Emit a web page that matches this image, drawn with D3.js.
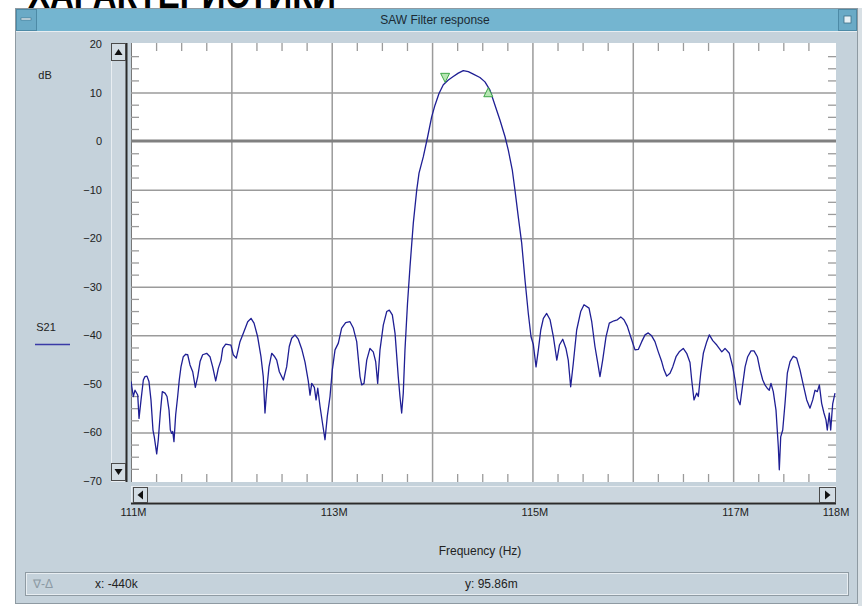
<!DOCTYPE html>
<html>
<head>
<meta charset="utf-8">
<script src="https://cdn.jsdelivr.net/npm/d3@7"></script>
<style>
  body { margin: 0; background: #ffffff; }
  svg { display: block; font-family: "Liberation Sans", Arial, sans-serif; }
</style>
</head>
<body>
<div id="viz"></div>
<script>
let w = 862;
let h = 606;

// S21 trace, frequency in MHz and level in dB
let freqs = [
  111.000, 111.023, 111.040, 111.067, 111.080, 111.100, 111.123, 111.139, 111.159, 111.179,
  111.199, 111.219, 111.232, 111.256, 111.272, 111.292, 111.312, 111.339, 111.359, 111.379,
  111.392, 111.406, 111.416, 111.428, 111.445, 111.465, 111.481, 111.498, 111.521, 111.545,
  111.565, 111.588, 111.615, 111.641, 111.665, 111.688, 111.714, 111.754, 111.787, 111.814,
  111.844, 111.870, 111.897, 111.914, 111.944, 111.996, 112.019, 112.049, 112.086, 112.126,
  112.163, 112.196, 112.226, 112.262, 112.295, 112.318, 112.335, 112.352, 112.375, 112.402,
  112.428, 112.452, 112.478, 112.518, 112.551, 112.577, 112.601, 112.634, 112.667, 112.701,
  112.734, 112.767, 112.784, 112.801, 112.827, 112.844, 112.861, 112.884, 112.906, 112.933,
  112.956, 112.983, 113.006, 113.033, 113.066, 113.099, 113.139, 113.182, 113.215, 113.249,
  113.282, 113.299, 113.322, 113.349, 113.381, 113.414, 113.438, 113.458, 113.481, 113.514,
  113.548, 113.574, 113.604, 113.631, 113.663, 113.680, 113.697, 113.713, 113.730, 113.755,
  113.780, 113.813, 113.847, 113.870, 113.913, 113.956, 113.996, 114.029, 114.069, 114.112,
  114.162, 114.211, 114.261, 114.311, 114.361, 114.411, 114.477, 114.527, 114.577, 114.627,
  114.677, 114.727, 114.759, 114.799, 114.826, 114.859, 114.893, 114.926, 114.959, 114.986,
  115.009, 115.036, 115.059, 115.083, 115.109, 115.142, 115.176, 115.209, 115.243, 115.269,
  115.302, 115.334, 115.357, 115.381, 115.407, 115.441, 115.481, 115.514, 115.564, 115.591,
  115.623, 115.646, 115.673, 115.700, 115.733, 115.766, 115.813, 115.846, 115.880, 115.912,
  115.945, 115.979, 116.022, 116.055, 116.089, 116.122, 116.154, 116.188, 116.221, 116.254,
  116.288, 116.311, 116.338, 116.371, 116.398, 116.431, 116.463, 116.503, 116.537, 116.570,
  116.587, 116.610, 116.637, 116.653, 116.677, 116.703, 116.737, 116.763, 116.797, 116.837,
  116.887, 116.919, 116.962, 116.996, 117.019, 117.042, 117.069, 117.096, 117.119, 117.145,
  117.178, 117.208, 117.241, 117.268, 117.295, 117.317, 117.340, 117.360, 117.377, 117.400,
  117.427, 117.450, 117.460, 117.474, 117.494, 117.517, 117.540, 117.567, 117.599, 117.633,
  117.666, 117.699, 117.733, 117.766, 117.793, 117.816, 117.839, 117.859, 117.882, 117.905,
  117.925, 117.938, 117.958, 117.972, 117.992, 118.015
];
let s21 = [
  -49.5, -52.6, -51.3, -52.3, -57.1, -53.3, -49.2, -48.5, -48.4, -49.5,
  -53.3, -59.5, -60.9, -64.4, -61.5, -56.0, -51.6, -51.9, -52.6, -55.4,
  -59.5, -60.2, -59.8, -61.9, -56.4, -52.6, -49.2, -46.5, -44.4, -43.9,
  -44.0, -46.1, -47.5, -50.7, -48.5, -45.4, -44.0, -43.7, -44.4, -46.5,
  -49.4, -46.8, -45.1, -42.7, -41.8, -42.0, -44.0, -44.7, -41.3, -39.2,
  -37.2, -36.5, -37.5, -40.3, -44.4, -48.5, -56.0, -51.3, -46.5, -43.7,
  -44.3, -45.1, -47.5, -49.2, -46.5, -42.3, -40.6, -39.9, -40.8, -42.8,
  -45.5, -49.5, -52.3, -49.9, -50.7, -53.3, -50.9, -54.7, -57.8, -61.5,
  -56.7, -52.6, -47.1, -43.0, -41.6, -38.5, -37.4, -37.2, -38.5, -41.3,
  -48.5, -50.2, -49.9, -45.1, -42.7, -43.4, -45.4, -49.9, -43.0, -37.9,
  -35.1, -34.8, -35.8, -39.6, -48.5, -52.6, -56.0, -51.9, -43.0, -33.5,
  -25.9, -16.9, -10.1, -6.6, -3.2, 0.9, 5.0, 7.4, 9.8, 11.6,
  12.6, 13.3, 14.0, 14.5, 14.3, 13.8, 13.1, 12.2, 10.5, 7.4,
  4.3, 0.9, -1.8, -5.9, -10.1, -15.6, -21.0, -28.6, -35.5, -40.3,
  -41.9, -46.5, -43.0, -38.9, -36.5, -35.5, -36.8, -40.3, -45.1, -42.0,
  -40.8, -42.7, -45.1, -50.6, -45.8, -38.9, -35.1, -33.7, -34.4, -37.2,
  -42.3, -45.1, -48.5, -45.1, -40.3, -37.5, -37.0, -36.8, -36.2, -36.8,
  -38.1, -40.3, -43.0, -42.9, -41.3, -39.9, -39.5, -40.1, -41.3, -43.4,
  -45.4, -47.1, -48.4, -47.8, -46.5, -44.4, -43.4, -42.7, -43.7, -45.6,
  -49.2, -53.3, -51.9, -52.6, -47.8, -43.7, -41.3, -39.9, -41.1, -42.0,
  -43.4, -42.7, -43.7, -46.5, -49.2, -53.0, -54.3, -50.0, -46.5, -44.4,
  -43.2, -43.2, -44.4, -47.1, -49.2, -50.2, -50.9, -51.3, -49.9, -51.6,
  -55.4, -62.9, -67.7, -60.9, -59.5, -54.0, -47.8, -45.4, -44.3, -44.7,
  -47.1, -50.2, -53.3, -55.0, -53.3, -51.3, -51.6, -50.2, -54.0, -56.0,
  -57.4, -59.5, -56.0, -59.5, -54.1, -51.9
];

// delta markers (MHz, dB)
let markerFreqs = [114.13, 114.56];
let markerLevels = [11.9, 11.2];
let markerKinds = ["down", "up"];

// axes
let xLabelTicks = [111, 113, 115, 117, 118];
let xGridTicks = [112, 113, 114, 115, 116, 117];
let yLabelTicks = [20, 10, 0, -10, -20, -30, -40, -50, -60, -70];
let yGridTicks = [10, -10, -20, -30, -40, -50, -60];

let plot = { left: 131, right: 836, top: 43, bottom: 482 };

let svg = d3.select("#viz").append("svg")
  .attr("width", w)
  .attr("height", h)
  .attr("viewBox", "0 0 " + w + " " + h);

let xScale = d3.scaleLinear().domain([111, 118]).range([131, 833.5]);
let yScale = d3.scaleLinear().domain([-70, 20]).range([481, 44]);

// page heading, only its lower edge is inside the screenshot
svg.append("text")
  .attr("x", 28)
  .attr("y", 8)
  .attr("font-size", 40)
  .attr("font-weight", "bold")
  .attr("textLength", 308)
  .attr("lengthAdjust", "spacingAndGlyphs")
  .attr("fill", "#000")
  .text("ХАРАКТЕРИСТИКИ");

// window frame
let bodyColor = "#c5d2db";
svg.append("rect")
  .attr("x", 15.5).attr("y", 8.5).attr("width", 842).attr("height", 595)
  .attr("fill", bodyColor).attr("stroke", "#8e9aa2");
svg.append("rect")
  .attr("x", 858).attr("y", 8).attr("width", 4).attr("height", 598)
  .attr("fill", "#d8e0e5");

// title bar
svg.append("rect")
  .attr("x", 16).attr("y", 9).attr("width", 841).attr("height", 22)
  .attr("fill", "#74b5d0");
svg.append("line")
  .attr("x1", 16).attr("x2", 857).attr("y1", 31.5).attr("y2", 31.5)
  .attr("stroke", "#e8eef2");
svg.append("rect")
  .attr("x", 16.5).attr("y", 9.5).attr("width", 20).attr("height", 21)
  .attr("fill", "#6aaac6").attr("stroke", "#4d8aa6");
svg.append("rect")
  .attr("x", 21).attr("y", 18).attr("width", 10).attr("height", 2)
  .attr("fill", "#e6f0f5").attr("stroke", "#3c6e86").attr("stroke-width", 0.6);
svg.append("rect")
  .attr("x", 838.5).attr("y", 9.5).attr("width", 18).attr("height", 21)
  .attr("fill", "#6aaac6").attr("stroke", "#4d8aa6");
svg.append("rect")
  .attr("x", 844).attr("y", 16).attr("width", 7).attr("height", 7)
  .attr("fill", "#e6f0f5").attr("stroke", "#3c6e86").attr("stroke-width", 0.8);
svg.append("text")
  .attr("x", 435).attr("y", 23.5)
  .attr("text-anchor", "middle")
  .attr("font-size", 12)
  .attr("fill", "#1c2a33")
  .text("SAW Filter response");

// left scroll bar
svg.append("rect")
  .attr("x", 111.5).attr("y", 43.5).attr("width", 15).attr("height", 438)
  .attr("fill", "#cbd6de").attr("stroke", "#e9eef2");
svg.append("line")
  .attr("x1", 126.5).attr("x2", 126.5).attr("y1", 43).attr("y2", 482)
  .attr("stroke", "#2b2b2b").attr("stroke-width", 2);
svg.append("rect")
  .attr("x", 111.5).attr("y", 43.5).attr("width", 14).attr("height", 17)
  .attr("fill", "#d3dde4").attr("stroke", "#4a4a4a");
svg.append("path")
  .attr("d", "M114.5,55 L122.5,55 L118.5,49 Z").attr("fill", "#111");
svg.append("rect")
  .attr("x", 111.5).attr("y", 463.5).attr("width", 14).attr("height", 17)
  .attr("fill", "#d3dde4").attr("stroke", "#4a4a4a");
svg.append("path")
  .attr("d", "M114.5,469 L122.5,469 L118.5,475 Z").attr("fill", "#111");

// bottom scroll bar
svg.append("rect")
  .attr("x", 131.5).attr("y", 486.5).attr("width", 704).attr("height", 16)
  .attr("fill", "#cbd6de").attr("stroke", "#e9eef2");
svg.append("line")
  .attr("x1", 131).attr("x2", 836).attr("y1", 503.5).attr("y2", 503.5)
  .attr("stroke", "#2b2b2b").attr("stroke-width", 2);
svg.append("rect")
  .attr("x", 133.5).attr("y", 487.5).attr("width", 14).attr("height", 15)
  .attr("fill", "#d3dde4").attr("stroke", "#4a4a4a");
svg.append("path")
  .attr("d", "M137.5,495 L143,490.5 L143,499.5 Z").attr("fill", "#111");
svg.append("rect")
  .attr("x", 819.5).attr("y", 487.5).attr("width", 16).attr("height", 15)
  .attr("fill", "#d3dde4").attr("stroke", "#4a4a4a");
svg.append("path")
  .attr("d", "M830.5,495 L825,490.5 L825,499.5 Z").attr("fill", "#111");

// plot area
svg.append("rect")
  .attr("x", plot.left).attr("y", plot.top)
  .attr("width", plot.right - plot.left).attr("height", plot.bottom - plot.top)
  .attr("fill", "#ffffff");
svg.append("line")
  .attr("x1", plot.left + 0.5).attr("x2", plot.left + 0.5)
  .attr("y1", plot.top).attr("y2", plot.bottom)
  .attr("stroke", "#777");

let gridColor = "#9b9b9b";

// grid lines
let xGrid = svg.append("g")
  .attr("transform", "translate(0," + plot.bottom + ")")
  .call(d3.axisBottom(xScale).tickValues(xGridTicks).tickSize(-(plot.bottom - plot.top)).tickFormat(""));
xGrid.select(".domain").remove();
xGrid.selectAll("line").attr("stroke", gridColor).attr("stroke-width", 1.5);

let yGrid = svg.append("g")
  .attr("transform", "translate(" + plot.left + ",0)")
  .call(d3.axisLeft(yScale).tickValues(yGridTicks).tickSize(-(plot.right - plot.left)).tickFormat(""));
yGrid.select(".domain").remove();
yGrid.selectAll("line").attr("stroke", gridColor).attr("stroke-width", 1.5);

// minor ticks on all four edges
let xMinor = d3.range(111, 118, 0.25).filter(d => d % 1 != 0);
let yMinor = d3.range(-70, 20, 2.5).filter(d => d % 10 != 0);

[["bottom", plot.bottom, d3.axisTop], ["top", plot.top, d3.axisBottom]].forEach(function(s) {
  let g = svg.append("g")
    .attr("transform", "translate(0," + s[1] + ")")
    .call(s[2](xScale).tickValues(xMinor).tickSize(8).tickFormat(""));
  g.select(".domain").remove();
  g.selectAll("line").attr("stroke", gridColor).attr("stroke-width", 1.3);
});
[[plot.left, d3.axisRight], [plot.right, d3.axisLeft]].forEach(function(s) {
  let g = svg.append("g")
    .attr("transform", "translate(" + s[0] + ",0)")
    .call(s[1](yScale).tickValues(yMinor).tickSize(8).tickFormat(""));
  g.select(".domain").remove();
  g.selectAll("line").attr("stroke", gridColor).attr("stroke-width", 1.3);
});

// zero dB line
svg.append("line")
  .attr("x1", plot.left).attr("x2", plot.right)
  .attr("y1", yScale(0)).attr("y2", yScale(0))
  .attr("stroke", "#808080").attr("stroke-width", 3);

// tick labels
let yAxisGroup = svg.append("g")
  .attr("transform", "translate(102,0)")
  .call(d3.axisLeft(yScale).tickValues(yLabelTicks).tickSize(0).tickPadding(0));
yAxisGroup.select(".domain").remove();
yAxisGroup.selectAll("text")
  .attr("font-family", "Liberation Sans, Arial, sans-serif")
  .attr("font-size", 11)
  .attr("fill", "#222");

let xAxisGroup = svg.append("g")
  .attr("transform", "translate(2,508)")
  .call(d3.axisBottom(xScale).tickValues(xLabelTicks).tickSize(0).tickPadding(0).tickFormat(d => d + "M"));
xAxisGroup.select(".domain").remove();
xAxisGroup.selectAll("text")
  .attr("font-family", "Liberation Sans, Arial, sans-serif")
  .attr("font-size", 11)
  .attr("fill", "#222");

svg.append("text")
  .attr("x", 480).attr("y", 555)
  .attr("text-anchor", "middle")
  .attr("font-size", 12)
  .attr("fill", "#222")
  .text("Frequency (Hz)");

svg.append("text")
  .attr("x", 45).attr("y", 79)
  .attr("text-anchor", "middle")
  .attr("font-size", 11)
  .attr("fill", "#222")
  .text("dB");

// legend
svg.append("text")
  .attr("x", 46).attr("y", 331)
  .attr("text-anchor", "middle")
  .attr("font-size", 11)
  .attr("fill", "#222")
  .text("S21");
svg.append("line")
  .attr("x1", 35).attr("x2", 70).attr("y1", 344.5).attr("y2", 344.5)
  .attr("stroke", "#3a3aa6").attr("stroke-width", 1.5);

// trace
let traceData = freqs.map((f, i) => ({ f: f, db: s21[i] }));

svg.append("clipPath").attr("id", "plotClip")
  .append("rect")
  .attr("x", plot.left).attr("y", plot.top)
  .attr("width", plot.right - plot.left).attr("height", plot.bottom - plot.top);

let lineMaker = d3.line()
  .x(d => xScale(d.f))
  .y(d => yScale(d.db));

svg.append("path")
  .datum(traceData)
  .attr("clip-path", "url(#plotClip)")
  .attr("d", lineMaker)
  .attr("fill", "none")
  .attr("stroke", "#1f1f94")
  .attr("stroke-width", 1.3)
  .attr("stroke-linejoin", "round");

// markers
let markerData = markerFreqs.map((f, i) => ({ f: f, db: markerLevels[i], kind: markerKinds[i] }));
svg.selectAll(".marker").data(markerData).enter()
  .append("path")
    .attr("class", "marker")
    .attr("d", function(d) {
      let x = xScale(d.f);
      let y = yScale(d.db);
      if (d.kind == "down") {
        return "M" + (x - 4.5) + "," + (y - 10) + " L" + (x + 4.5) + "," + (y - 10) + " L" + x + "," + (y - 1) + " Z";
      }
      return "M" + (x - 4.5) + "," + (y + 10) + " L" + (x + 4.5) + "," + (y + 10) + " L" + x + "," + (y + 1) + " Z";
    })
    .attr("fill", "#b7e6b3")
    .attr("stroke", "#3fa748")
    .attr("stroke-width", 1);

// status bar
svg.append("rect")
  .attr("x", 25.5).attr("y", 572.5).attr("width", 823).attr("height", 23)
  .attr("fill", bodyColor).attr("stroke", "#8f9ba3");
svg.append("rect")
  .attr("x", 26.5).attr("y", 573.5).attr("width", 821).attr("height", 21)
  .attr("fill", "none").attr("stroke", "#e8eef2");
svg.append("text")
  .attr("x", 33).attr("y", 588)
  .attr("font-size", 12)
  .attr("fill", "#8c9aa4")
  .text("∇-Δ");
svg.append("text")
  .attr("x", 95).attr("y", 588)
  .attr("font-size", 12)
  .attr("fill", "#222")
  .text("x: -440k");
svg.append("text")
  .attr("x", 465).attr("y", 588)
  .attr("font-size", 12)
  .attr("fill", "#222")
  .text("y: 95.86m");
</script>
</body>
</html>
